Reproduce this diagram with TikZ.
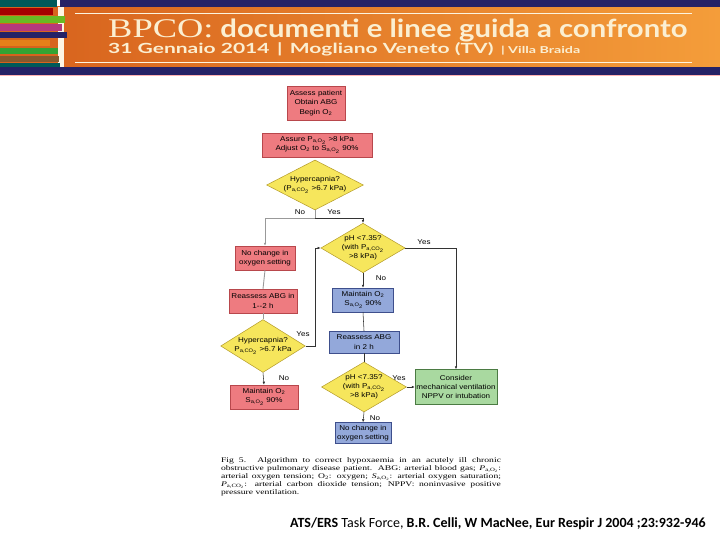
\documentclass[tikz,border=0pt]{standalone}
\usepackage{fontspec}
\setmainfont{Liberation Sans}
\newfontfamily\chartfont[FakeStretch=1.15]{Liberation Sans}
\newfontfamily\capfont[FakeStretch=1.36]{Liberation Serif}
\newfontfamily\bpcofont[FakeStretch=1.35]{Liberation Serif}
\newfontfamily\bannerfont[FakeStretch=1.17]{Lato}
\newfontfamily\subbannerfont[FakeStretch=1.5]{Lato}
\newfontfamily\citefont{Carlito}
\usetikzlibrary{arrows.meta,shapes.geometric}

\definecolor{bandnavy}{HTML}{252266}
\definecolor{bandorangeL}{HTML}{D6601C}
\definecolor{bandorangeR}{HTML}{F49D3A}
\definecolor{bandcream}{HTML}{FBEFD2}
\definecolor{redfill}{HTML}{EE7B80}
\definecolor{reddraw}{HTML}{B8474C}
\definecolor{yelfill}{HTML}{F6E65C}
\definecolor{yeldraw}{HTML}{B39A2A}
\definecolor{bluefill}{HTML}{93A8DA}
\definecolor{bluedraw}{HTML}{3E4F8C}
\definecolor{grnfill}{HTML}{A9D9A0}
\definecolor{grndraw}{HTML}{4B7B43}

\begin{document}
\begin{tikzpicture}[
  x=1pt,
  y=-1pt,
  every node/.style={font=\chartfont\fontsize{7}{9.2}\selectfont, inner sep=1pt},
  boxbase/.style={rectangle, draw, line width=0.5pt, align=center},
  redbox/.style={boxbase, fill=redfill, draw=reddraw},
  bluebox/.style={boxbase, fill=bluefill, draw=bluedraw},
  grnbox/.style={boxbase, fill=grnfill, draw=grndraw},
  query/.style={diamond, aspect=2, draw=yeldraw, fill=yelfill, line width=0.5pt,
    align=center, inner sep=0pt},
  link/.style={draw=black!80, line width=0.55pt},
  linkgray/.style={draw=black!40, line width=0.9pt},
  tip/.style={-{Latex[length=3pt, width=2.6pt]}},
  answer/.style={inner sep=0.5pt}
]
  \useasboundingbox (0,0) rectangle (720,540);

  % banner
  \shade[left color=bandorangeL, right color=bandorangeR] (0,7) rectangle (720,67);
  \fill[bandnavy] (60,0) rectangle (720,7);
  \fill[bandnavy] (0,67) rectangle (720,75);
  \fill[red!30] (0,75) rectangle (720,76);
  \draw[bandcream!70, line width=0.8pt] (75,13) -- (692,13);
  \draw[bandcream!70, line width=0.8pt] (75,62) -- (692,62);
  \fill[bandcream!60] (58,7) rectangle (64,67);

  % book spines
  \fill[teal!70!black] (0,0) rectangle (57,7);
  \fill[red!65!black] (0,8) rectangle (53,15);
  \fill[green!45!brown] (0,16) rectangle (65,23);
  \fill[magenta!70!black] (0,24) rectangle (62,31);
  \fill[bandnavy] (0,32) rectangle (67,38);
  \fill[orange!60!brown] (0,40) rectangle (50,46);
  \fill[green!55!black!80] (0,48) rectangle (58,54);
  \fill[brown!70!black] (0,56) rectangle (59,62);
  \fill[teal!70!black] (0,63) rectangle (60,67);

  \node[anchor=base west, inner sep=0pt, text=bandcream,
    font=\fontsize{25}{25}\selectfont] (title) at (108,38)
    {{\bpcofont\fontsize{27}{27}\selectfont BPCO:} {\bannerfont\bfseries documenti e linee guida a confronto}};
  \node[anchor=base west, inner sep=0pt, text=bandcream,
    font=\subbannerfont\bfseries\fontsize{14}{14}\selectfont] (subtitle) at (108,54)
    {31 Gennaio 2014 \,|\, Mogliano Veneto (TV) \,{\fontsize{9.5}{9.5}\selectfont| Villa Braida}};

  % flowchart
  \node[redbox, minimum width=58, minimum height=34] (assess) at (316,103)
    {Assess patient\\Obtain ABG\\Begin O\textsubscript{2}};
  \node[redbox, minimum width=110, minimum height=24] (assure) at (317,145)
    {Assure P\textsubscript{a,O\textsubscript{2}} >8 kPa\\Adjust O\textsubscript{2} to S\textsubscript{a,O\textsubscript{2}} 90\%};
  \node[query, minimum width=96, minimum height=50] (hyperA) at (315,185)
    {Hypercapnia?\\(P\textsubscript{a,CO\textsubscript{2}} >6.7 kPa)};
  \coordinate (split) at (315,218);

  \node[redbox, minimum width=60, minimum height=24] (keepA) at (265,258)
    {No change in\\oxygen setting};
  \node[query, aspect=1.7, minimum width=84, minimum height=48] (phA) at (363,248)
    {pH <7.35?\\(with P\textsubscript{a,CO\textsubscript{2}}\\>8 kPa)};
  \node[redbox, minimum width=68, minimum height=24] (recheckA) at (263,301)
    {Reassess ABG in\\1--2 h};
  \node[bluebox, minimum width=61, minimum height=24] (holdB) at (363,300)
    {Maintain O\textsubscript{2}\\S\textsubscript{a,O\textsubscript{2}} 90\%};
  \node[query, aspect=1.6, minimum width=84, minimum height=49] (hyperB) at (263,346)
    {Hypercapnia?\\P\textsubscript{a,CO\textsubscript{2}} >6.7 kPa};
  \node[bluebox, minimum width=70, minimum height=22] (recheckB) at (364,342)
    {Reassess ABG\\in 2 h};
  \node[redbox, minimum width=68, minimum height=24] (holdA) at (264,397)
    {Maintain O\textsubscript{2}\\S\textsubscript{a,O\textsubscript{2}} 90\%};
  \node[query, aspect=1.7, minimum width=85, minimum height=50] (phB) at (364,387)
    {pH <7.35?\\(with P\textsubscript{a,CO\textsubscript{2}}\\>8 kPa)};
  \node[grnbox, minimum width=82, minimum height=35] (ventil) at (456,387)
    {Consider\\mechanical ventilation\\NPPV or intubation};
  \node[bluebox, minimum width=56, minimum height=21] (keepB) at (363,433)
    {No change in\\oxygen setting};

  % connectors
  \draw[linkgray] (hyperA.south) -- (split);
  \draw[linkgray, tip] (split) -| (keepA.north);
  \draw[link, tip] (split) -| (phA.north);
  \draw[linkgray] (keepA.south) -- (recheckA.north);
  \draw[linkgray] (recheckA.south) -- (hyperB.north);
  \draw[link, tip] (hyperB.east) -- ++(10,0) |- (phA.west);
  \draw[link, tip] (hyperB.south) -- (holdA.north);
  \draw[link, tip] (phA.south) -- (holdB.north);
  \draw[link] (holdB.south) -- (recheckB.north);
  \draw[link] (recheckB.south) -- (phB.north);
  \draw[link, tip] (phA.east) -| (ventil.north);
  \draw[link, tip] (phB.east) -- (ventil.west);
  \draw[link, tip] (phB.south) -- (keepB.north);

  \node[answer] (noA) at (300,212) {No};
  \node[answer] (yesA) at (334,212) {Yes};
  \node[answer] (yesB) at (424,242) {Yes};
  \node[answer] (noB) at (381,278) {No};
  \node[answer] (yesC) at (303,334) {Yes};
  \node[answer] (noC) at (284,378) {No};
  \node[answer] (yesD) at (399,378) {Yes};
  \node[answer] (noD) at (375,418) {No};

  % caption and source
  \node[text width=280pt, align=justify, inner sep=0pt,
    font=\capfont\fontsize{7.1}{8.1}\selectfont] (caption) at (361,477)
    {\hyphenpenalty=10000 \exhyphenpenalty=10000
     Fig 5. Algorithm to correct hypoxaemia in an acutely ill chronic\linebreak
     obstructive pulmonary disease patient. ABG: arterial blood gas; \textit{P}\textsubscript{a,O\textsubscript{2}}:\linebreak
     arterial oxygen tension; O\textsubscript{2}: oxygen; \textit{S}\textsubscript{a,O\textsubscript{2}}: arterial oxygen saturation;\linebreak
     \textit{P}\textsubscript{a,CO\textsubscript{2}}: arterial carbon dioxide tension; NPPV: noninvasive positive\linebreak
     pressure ventilation.};
  \node[anchor=base west, inner sep=0pt, font=\citefont\fontsize{14}{14}\selectfont] (source) at (290,527)
    {\textbf{ATS/ERS} Task Force, \textbf{B.R. Celli, W MacNee, Eur Respir J 2004 ;23:932-946}};
\end{tikzpicture}
\end{document}
